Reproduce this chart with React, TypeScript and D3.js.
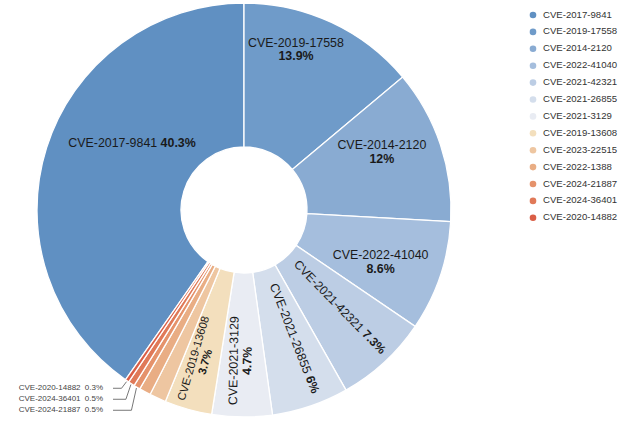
import React from "react";
import * as d3 from "d3";

const names = [
  "CVE-2017-9841", "CVE-2019-17558", "CVE-2014-2120", "CVE-2022-41040",
  "CVE-2021-42321", "CVE-2021-26855", "CVE-2021-3129", "CVE-2019-13608",
  "CVE-2023-22515", "CVE-2022-1388", "CVE-2024-21887", "CVE-2024-36401",
  "CVE-2020-14882",
];
const values = [40.3, 13.9, 12, 8.6, 7.3, 6, 4.7, 3.7, 1.3, 0.9, 0.5, 0.5, 0.3];
const palette = [
  "#6090c2", "#6f9bc9", "#89abd2", "#a5bedd", "#bccde4", "#d4deec", "#e9ecf3",
  "#f3dfbd", "#eec6a1", "#e9ad84", "#e5926b", "#e07958", "#da5e46",
];

// label layout: mode, position within slice (angle fraction, radial fraction), font size
const labelMode = ["h1", "h2", "h2", "h2", "r1", "r1", "r2", "r2", "none", "none", "out", "out", "out"];
const labelAngleFrac = [0.59, 0.36, 0.4, 0.58, 0.44, 0.39, 0.53, 0.55, 0.5, 0.5, 0.5, 0.5, 0.5];
const labelRadFrac = [0.465, 0.73, 0.6, 0.58, 0.51, 0.52, 0.61, 0.65, 0.5, 0.5, 0, 0, 0];
const labelSize = [12.4, 12.4, 12.4, 12.4, 12.2, 12.4, 12.4, 11.3, 12, 12, 8, 8, 8];

const W = 640, H = 425;
const cx = 244, cy = 210, R = 207, r0 = 63;
const FONT = "'Liberation Sans', Arial, Helvetica, sans-serif";

export default function App() {
  const total = d3.sum(values);
  const start = -(values[0] / total) * 2 * Math.PI;
  const pie = d3.pie<number>().sort(null).value((d) => d).startAngle(start).endAngle(start + 2 * Math.PI);
  const arcs = pie(values);
  const arc = d3.arc<d3.PieArcDatum<number>>().innerRadius(r0).outerRadius(R);
  const pt = (a: number, r: number) => [cx + r * Math.sin(a), cy - r * Math.cos(a)];

  // outside labels layout
  const outIdx = arcs.map((_, i) => i).filter((i) => labelMode[i] === "out");
  const outSorted = [...outIdx].sort((a, b) => {
    const ma = (arcs[a].startAngle + arcs[a].endAngle) / 2;
    const mb = (arcs[b].startAngle + arcs[b].endAngle) / 2;
    return mb - ma; // largest angle (highest on left-bottom) first
  });
  const outPos: Record<number, { y: number; p0: number[]; }> = {};
  let lastY = -Infinity;
  outSorted.forEach((i) => {
    const m = (arcs[i].startAngle + arcs[i].endAngle) / 2;
    const p0 = pt(m, R + 1);
    let y = pt(m, R + 9)[1];
    if (y < lastY + 11) y = lastY + 11;
    lastY = y;
    outPos[i] = { y, p0 };
  });
  const lineEndX = cx - 131;
  const textEndX = lineEndX - 10;

  return (
    <svg width={W} height={H} style={{ position: "absolute", left: 0, top: 0, background: "#fff" }} fontFamily={FONT}>
      <g>
        {arcs.map((a, i) => (
          <path key={i} d={arc(a) || ""} transform={`translate(${cx},${cy})`} fill={palette[i]} stroke="#fff" strokeWidth={1.3} />
        ))}
      </g>
      <g fill="#1a1a1a">
        {arcs.map((a, i) => {
          const mode = labelMode[i];
          if (mode === "none" || mode === "out") return null;
          const ang = a.startAngle + (a.endAngle - a.startAngle) * labelAngleFrac[i];
          const rad = r0 + (R - r0) * labelRadFrac[i];
          const [x, y] = pt(ang, rad);
          const fs = labelSize[i];
          const pct = `${values[i]}%`;
          let rot = 0;
          if (mode[0] === "r") {
            rot = (ang * 180) / Math.PI - 90;
            if (rot > 90) rot -= 180;
          }
          const twoLine = mode[1] === "2";
          return (
            <g key={i} transform={`translate(${x},${y}) rotate(${rot})`} fontSize={fs}>
              {twoLine ? (
                <>
                  <text textAnchor="middle" y={-fs * 0.55} dominantBaseline="middle">{names[i]}</text>
                  <text textAnchor="middle" y={fs * 0.55} dominantBaseline="middle" fontWeight="bold">{pct}</text>
                </>
              ) : (
                <text textAnchor="middle" dominantBaseline="middle">
                  {names[i]} <tspan fontWeight="bold">{pct}</tspan>
                </text>
              )}
            </g>
          );
        })}
      </g>
      <g>
        {outIdx.map((i) => {
          const { y, p0 } = outPos[i];
          const elbowX = p0[0] - 5;
          return (
            <g key={i}>
              <polyline points={`${p0[0]},${p0[1]} ${elbowX},${y} ${lineEndX},${y}`} fill="none" stroke="#555" strokeWidth={0.8} />
              <text x={textEndX} y={y} textAnchor="end" dominantBaseline="middle" fontSize={8} fill="#444">
                {names[i]} <tspan dx={2}>{`${values[i]}%`}</tspan>
              </text>
            </g>
          );
        })}
      </g>
      <g>
        {names.map((n, i) => (
          <g key={n} transform={`translate(533,${15 + i * 16.9})`}>
            <circle r={3.3} fill={palette[i]} />
            <text x={10} dominantBaseline="middle" fontSize={9.6} fill="#333">{n}</text>
          </g>
        ))}
      </g>
    </svg>
  );
}
